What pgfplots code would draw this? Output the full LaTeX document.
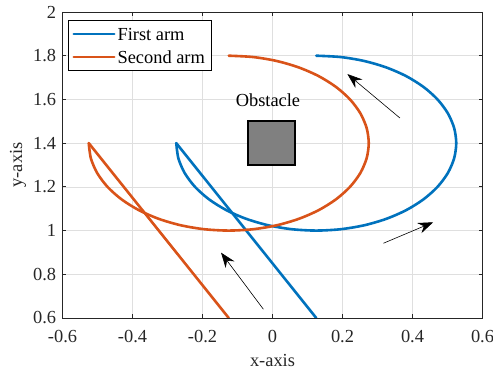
\documentclass[border=0pt]{standalone}
\usepackage{fontspec}
\setmainfont{Liberation Serif}
\usepackage{pgfplots}
\pgfplotsset{compat=1.18}
\usetikzlibrary{arrows.meta}
\definecolor{mblue}{RGB}{0,114,189}
\definecolor{morange}{RGB}{217,83,25}
\definecolor{axgray}{RGB}{38,38,38}
\definecolor{gridgray}{RGB}{223,223,223}
\definecolor{obsgray}{RGB}{128,128,128}
\begin{document}
\fontsize{18.4}{22}\selectfont
\begin{tikzpicture}
\path[use as bounding box] (-62.5pt,-56pt) rectangle (430.5pt,318pt);
\begin{axis}[
  scale only axis, width=420pt, height=306pt,
  xmin=-0.6, xmax=0.6, ymin=0.6, ymax=2,
  xtick={-0.6,-0.4,-0.2,0,0.2,0.4,0.6},
  xticklabels={-0.6,-0.4,-0.2,0,0.2,0.4,0.6},
  ytick={0.6,0.8,1,1.2,1.4,1.6,1.8,2},
  yticklabels={0.6,0.8,1,1.2,1.4,1.6,1.8,2},
  tick align=inside, major tick length=4pt,
  tick style={axgray, line width=0.8pt},
  grid=major, grid style={gridgray, line width=0.6pt},
  axis line style={axgray, line width=0.8pt},
  ticklabel style={text=axgray},
  xticklabel style={anchor=center, yshift=-18.5pt},
  label style={text=axgray},
  xlabel style={at={(axis description cs:0.5,-0.1389)}, anchor=center},
  ylabel style={at={(axis description cs:-0.106,0.5)}, anchor=center},
  xlabel={x-axis}, ylabel={y-axis},
  legend style={at={(axis description cs:0.012,0.974)}, anchor=north west,
    draw=black, line width=0.8pt, fill=white, inner xsep=4.5pt, inner ysep=4.5pt,
    nodes={inner sep=2pt, text height=14pt, text depth=0pt, text=black}, row sep=5pt},
  legend cell align=left,
  legend image code/.code={\draw[#1] (0pt,0pt) -- (40.5pt,0pt);},
]
\addplot[fill=obsgray, draw=black, line width=1.8pt, forget plot]
  coordinates {(-0.07,1.3) (0.065,1.3) (0.065,1.5) (-0.07,1.5)} -- cycle;
\addplot[mblue, line width=2.6pt, line cap=round, forget plot] coordinates {(0.125,0.6) (-0.275,1.4)};
\addplot[morange, line width=2.6pt, line cap=round, forget plot] coordinates {(-0.125,0.6) (-0.525,1.4)};
\addplot[mblue, line width=2.6pt, line cap=round, smooth] coordinates {
(-0.275,1.4) (-0.2689,1.3305) (-0.2509,1.2632) (-0.2214,1.2) (-0.1814,1.1429)
(-0.1321,1.0936) (-0.075,1.0536) (-0.0118,1.0241) (0.0555,1.0061) (0.125,1.0)
(0.1945,1.0061) (0.2618,1.0241) (0.325,1.0536) (0.3821,1.0936) (0.4314,1.1429)
(0.4714,1.2) (0.5009,1.2632) (0.5189,1.3305) (0.525,1.4) (0.5189,1.4695)
(0.5009,1.5368) (0.4714,1.6) (0.4314,1.6571) (0.3821,1.7064) (0.325,1.7464)
(0.2618,1.7759) (0.1945,1.7939) (0.125,1.8)};
\addlegendentry{First arm}
\addplot[morange, line width=2.6pt, line cap=round, smooth] coordinates {
(-0.525,1.4) (-0.5189,1.3305) (-0.5009,1.2632) (-0.4714,1.2) (-0.4314,1.1429)
(-0.3821,1.0936) (-0.325,1.0536) (-0.2618,1.0241) (-0.1945,1.0061) (-0.125,1.0)
(-0.0555,1.0061) (0.0118,1.0241) (0.075,1.0536) (0.1321,1.0936) (0.1814,1.1429)
(0.2214,1.2) (0.2509,1.2632) (0.2689,1.3305) (0.275,1.4) (0.2689,1.4695)
(0.2509,1.5368) (0.2214,1.6) (0.1814,1.6571) (0.1321,1.7064) (0.075,1.7464)
(0.0118,1.7759) (-0.0555,1.7939) (-0.125,1.8)};
\addlegendentry{Second arm}
\node[text=black] at (axis cs:-0.013,1.597) {Obstacle};
\draw[-{Stealth[length=15pt,width=11pt,inset=5pt]}, line width=0.6pt] (axis cs:0.364,1.515) -- (axis cs:0.214,1.716);
\draw[-{Stealth[length=15pt,width=11pt,inset=5pt]}, line width=0.6pt] (axis cs:0.317,0.942) -- (axis cs:0.459,1.038);
\draw[-{Stealth[length=15pt,width=11pt,inset=5pt]}, line width=0.6pt] (axis cs:-0.026,0.640) -- (axis cs:-0.147,0.899);
\end{axis}
\end{tikzpicture}
\end{document}
